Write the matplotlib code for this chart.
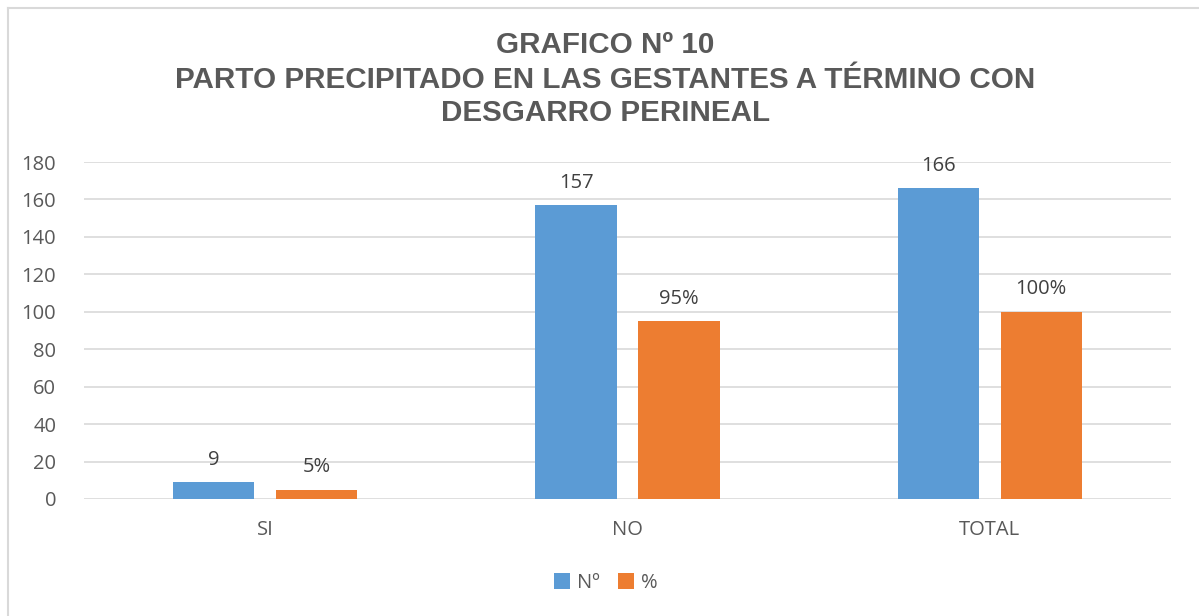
import matplotlib.pyplot as plt
import numpy as np
from matplotlib.lines import Line2D

# datos
categorias = ["SI", "NO", "TOTAL"]
numero = [9, 157, 166]
porcentaje = [5, 95, 100]
etiquetas_pct = ["5%", "95%", "100%"]
yticks = [0, 20, 40, 60, 80, 100, 120, 140, 160, 180]

azul = "#5B9BD5"
naranja = "#ED7D31"
gris = "#595959"

plt.rcParams['font.family'] = ['Open Sans', 'DejaVu Sans']

fig = plt.figure(figsize=(11.99, 6.16), dpi=100)
ax = fig.add_axes([84/1199, 1 - 499/616, (1171 - 84)/1199, (499 - 162)/616])

x = np.arange(len(categorias))
ancho = 0.224
b1 = ax.bar(x - 0.142, numero, ancho, color=azul, label="Nº", zorder=3)
b2 = ax.bar(x + 0.142, porcentaje, ancho, color=naranja, label="%", zorder=3)

for rect, v in zip(b1, numero):
    ax.annotate(str(v), (rect.get_x() + rect.get_width()/2, rect.get_height()),
                xytext=(0, 9), textcoords="offset points", ha="center", va="bottom",
                fontsize=14.5, color="#404040")
for rect, t in zip(b2, etiquetas_pct):
    ax.annotate(t, (rect.get_x() + rect.get_width()/2, rect.get_height()),
                xytext=(0, 9), textcoords="offset points", ha="center", va="bottom",
                fontsize=14.5, color="#404040")

ax.set_xlim(-0.5, 2.5)
ax.set_ylim(0, 180)
ax.set_yticks(yticks)
ax.set_xticks(x)
ax.set_xticklabels(categorias)
ax.tick_params(axis="both", length=0, labelsize=14.5, colors=gris)
ax.tick_params(axis="x", pad=15)
ax.tick_params(axis="y", pad=20)
ax.grid(axis="y", color="#D9D9D9", lw=1.2, zorder=0)
for s in ax.spines.values():
    s.set_visible(False)

titulo = ["GRAFICO Nº 10",
          "PARTO PRECIPITADO EN LAS GESTANTES A TÉRMINO CON",
          "DESGARRO PERINEAL"]
for linea, yy in zip(titulo, [45, 80, 113]):
    fig.text(0.505, 1 - yy/616, linea, ha="center", va="center",
             fontsize=21.3, fontweight="bold", color=gris, family="Liberation Sans")

leg = fig.legend(loc="center", bbox_to_anchor=(0.505, 1 - 583/616), ncol=2, frameon=False,
                 fontsize=14.5, handlelength=0.8, handleheight=0.8, handletextpad=0.35,
                 columnspacing=0.9)
for t in leg.get_texts():
    t.set_color(gris)

# marco
fig.add_artist(Line2D([8/1199, 1], [1 - 8/616, 1 - 8/616], color="#D9D9D9", lw=1.5))
fig.add_artist(Line2D([8/1199, 8/1199], [0, 1 - 8/616], color="#D9D9D9", lw=1.5))

fig.savefig("out.png", dpi=100)
